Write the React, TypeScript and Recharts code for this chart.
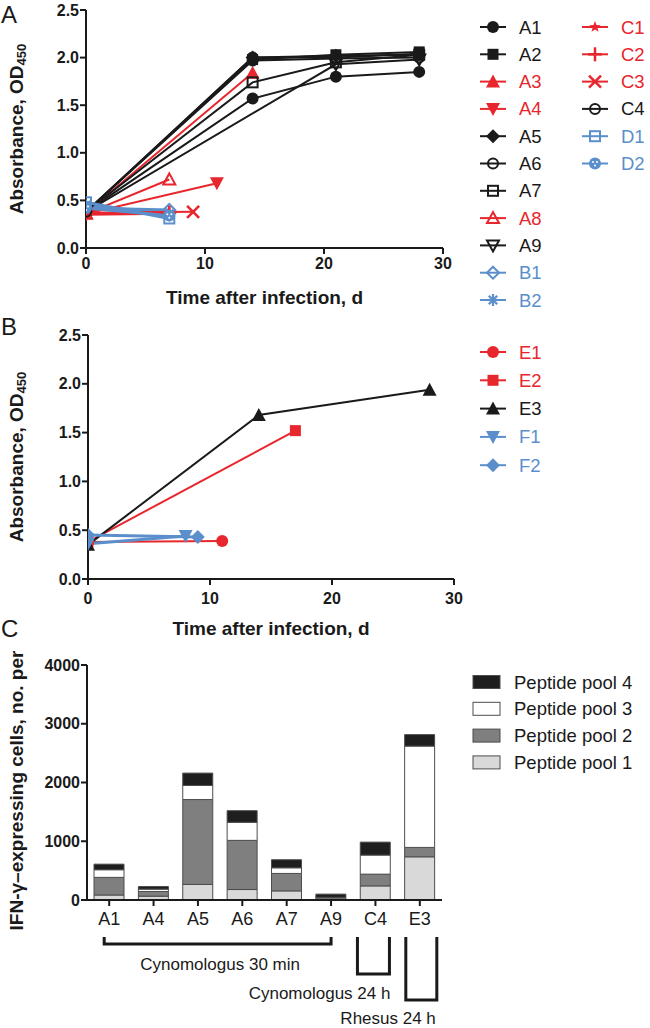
import React from 'react';
import { LineChart, Line, XAxis, YAxis, BarChart, Bar, Label } from 'recharts';

const FONT = "'Liberation Sans', Arial, Helvetica, sans-serif";
const INK = '#1a1a1a';
const RED = '#e8262d';
const BLUE = '#5b8fcb';

// ---- Panel A: ELISA time course, groups A-D ----
const A_NAMES = ['A1', 'A2', 'A3', 'A4', 'A5', 'A6', 'A7', 'A8', 'A9', 'B1', 'B2', 'C1', 'C2', 'C3', 'C4', 'D1', 'D2'];
const A_DAYS = [
  [0, 14, 21, 28], [0, 14, 21, 28], [0, 14], [0, 11], [0, 14, 21, 28], [0, 14, 21, 28],
  [0, 14, 21, 28], [0, 7], [0, 21, 28], [0, 7], [0, 7], [0, 7], [0, 7], [0, 9],
  [0, 14, 21, 28], [0, 7], [0, 7],
];
const A_OD = [
  [0.38, 1.57, 1.8, 1.85], [0.38, 1.98, 2.03, 2.06], [0.37, 1.84], [0.36, 0.68],
  [0.38, 2.0, 2.02, 2.03], [0.38, 1.97, 1.99, 2.0], [0.38, 1.74, 1.95, 2.03], [0.36, 0.72],
  [0.38, 1.93, 1.98], [0.42, 0.4], [0.45, 0.36], [0.35, 0.36], [0.36, 0.37], [0.37, 0.38],
  [0.38, 2.0, 2.0, 2.04], [0.48, 0.31], [0.42, 0.34],
];
const A_COLORS = [INK, INK, RED, RED, INK, INK, INK, RED, INK, BLUE, BLUE, RED, RED, RED, INK, BLUE, BLUE];
const A_SHAPES = [
  'circle', 'square', 'triUp', 'triDown', 'diamond', 'openCircle', 'openSquare', 'openTriUp',
  'openTriDown', 'openDiamond', 'asterisk', 'star', 'plus', 'cross', 'openCircle', 'openSquare', 'dotCircle',
];

// ---- Panel B: groups E-F ----
const B_NAMES = ['E1', 'E2', 'E3', 'F1', 'F2'];
const B_DAYS = [[0, 11], [0, 17], [0, 14, 28], [0, 8], [0, 9]];
const B_OD = [[0.38, 0.39], [0.38, 1.52], [0.35, 1.68, 1.94], [0.36, 0.44], [0.45, 0.43]];
const B_COLORS = [RED, RED, INK, BLUE, BLUE];
const B_SHAPES = ['circle', 'square', 'triUp', 'triDown', 'diamond'];

const OD_TICKS = [0, 0.5, 1, 1.5, 2, 2.5];
const DAY_TICKS = [0, 10, 20, 30];

// ---- Panel C: IFN-gamma ELISpot by peptide pool ----
const C_ANIMALS = ['A1', 'A4', 'A5', 'A6', 'A7', 'A9', 'C4', 'E3'];
const POOL1 = [85, 65, 265, 178, 155, 10, 240, 735];
const POOL2 = [300, 80, 1445, 837, 297, 30, 200, 160];
const POOL3 = [130, 40, 240, 308, 96, 5, 325, 1725];
const POOL4 = [95, 45, 210, 197, 137, 55, 220, 195];
const POOL_NAMES = ['Peptide pool 1', 'Peptide pool 2', 'Peptide pool 3', 'Peptide pool 4'];
const POOL_FILLS = ['#d9d9d9', '#7f7f7f', '#ffffff', '#1e1e1e'];
const C_TICKS = [0, 1000, 2000, 3000, 4000];

const barData = C_ANIMALS.map((id, i) => ({ id, p1: POOL1[i], p2: POOL2[i], p3: POOL3[i], p4: POOL4[i] }));

const toPoints = (days: number[], od: number[]) => days.map((x, i) => ({ x, y: od[i] }));

// plot geometry of panel C (used for the group brackets below the axis)
const C_LEFT = 87;
const C_RIGHT = 442;
const C_BAND = (C_RIGHT - C_LEFT) / C_ANIMALS.length;
const bandCenter = (id: string) => C_LEFT + C_BAND * (C_ANIMALS.indexOf(id) + 0.5);

function Marker({ shape, cx, cy, color, s = 6 }: any) {
  const sw = 2;
  const open = { fill: 'none', stroke: color, strokeWidth: sw };
  switch (shape) {
    case 'circle':
      return <circle cx={cx} cy={cy} r={s} fill={color} />;
    case 'dotCircle':
      return (
        <g>
          <circle cx={cx} cy={cy} r={s} fill={color} />
          <circle cx={cx - 2} cy={cy - 1.5} r={1} fill="#fff" />
          <circle cx={cx + 2} cy={cy - 1.5} r={1} fill="#fff" />
          <circle cx={cx} cy={cy + 2} r={1} fill="#fff" />
        </g>
      );
    case 'square':
      return <rect x={cx - s + 0.5} y={cy - s + 0.5} width={2 * s - 1} height={2 * s - 1} fill={color} />;
    case 'triUp':
      return <polygon points={`${cx},${cy - s - 1} ${cx + s + 1},${cy + s} ${cx - s - 1},${cy + s}`} fill={color} />;
    case 'triDown':
      return <polygon points={`${cx - s - 1},${cy - s} ${cx + s + 1},${cy - s} ${cx},${cy + s + 1}`} fill={color} />;
    case 'diamond':
      return <polygon points={`${cx},${cy - s - 1} ${cx + s + 1},${cy} ${cx},${cy + s + 1} ${cx - s - 1},${cy}`} fill={color} />;
    case 'openCircle':
      return <circle cx={cx} cy={cy} r={s - 1} {...open} />;
    case 'openSquare':
      return <rect x={cx - s + 1} y={cy - s + 1} width={2 * s - 2} height={2 * s - 2} {...open} />;
    case 'openTriUp':
      return <polygon points={`${cx},${cy - s} ${cx + s},${cy + s - 1} ${cx - s},${cy + s - 1}`} {...open} />;
    case 'openTriDown':
      return <polygon points={`${cx - s},${cy - s + 1} ${cx + s},${cy - s + 1} ${cx},${cy + s}`} {...open} />;
    case 'openDiamond':
      return <polygon points={`${cx},${cy - s} ${cx + s},${cy} ${cx},${cy + s} ${cx - s},${cy}`} {...open} />;
    case 'asterisk':
      return (
        <g stroke={color} strokeWidth={2.2}>
          <line x1={cx - s} y1={cy} x2={cx + s} y2={cy} />
          <line x1={cx} y1={cy - s} x2={cx} y2={cy + s} />
          <line x1={cx - s * 0.7} y1={cy - s * 0.7} x2={cx + s * 0.7} y2={cy + s * 0.7} />
          <line x1={cx - s * 0.7} y1={cy + s * 0.7} x2={cx + s * 0.7} y2={cy - s * 0.7} />
        </g>
      );
    case 'star': {
      const pts: string[] = [];
      for (let k = 0; k < 10; k++) {
        const r = k % 2 === 0 ? s : s * 0.42;
        const a = -Math.PI / 2 + (k * Math.PI) / 5;
        pts.push(`${cx + r * Math.cos(a)},${cy + r * Math.sin(a)}`);
      }
      return <polygon points={pts.join(' ')} fill={color} />;
    }
    case 'plus':
      return (
        <g stroke={color} strokeWidth={2.5}>
          <line x1={cx - s - 1} y1={cy} x2={cx + s + 1} y2={cy} />
          <line x1={cx} y1={cy - s - 1} x2={cx} y2={cy + s + 1} />
        </g>
      );
    case 'cross':
      return (
        <g stroke={color} strokeWidth={2.5}>
          <line x1={cx - s} y1={cy - s} x2={cx + s} y2={cy + s} />
          <line x1={cx - s} y1={cy + s} x2={cx + s} y2={cy - s} />
        </g>
      );
    default:
      return null;
  }
}

const dotFor = (name: string, shape: string, color: string) => (p: any) => (
  <Marker key={`${name}-${p.index}`} shape={shape} cx={p.cx} cy={p.cy} color={color} />
);

const tickBold = { fill: INK, fontSize: 16, fontWeight: 700, fontFamily: FONT };
const axisStroke = { stroke: INK, strokeWidth: 2 };

const odLabel = ({ viewBox }: any) => {
  const cx = viewBox.x + 16;
  const cy = viewBox.y + viewBox.height / 2;
  return (
    <text
      x={cx}
      y={cy}
      transform={`rotate(-90 ${cx} ${cy})`}
      textAnchor="middle"
      dominantBaseline="central"
      fontFamily={FONT}
      fontWeight={700}
      fontSize={19}
      fill={INK}
    >
      Absorbance, OD<tspan fontSize={13} dy={5}>450</tspan>
    </text>
  );
};

const dayLabel = ({ viewBox }: any) => (
  <text
    x={viewBox.x + viewBox.width / 2}
    y={viewBox.y + 56}
    textAnchor="middle"
    fontFamily={FONT}
    fontWeight={700}
    fontSize={19}
    fill={INK}
  >
    Time after infection, d
  </text>
);

const ifnLabel = ({ viewBox }: any) => {
  const cx = viewBox.x + 16;
  const cy = viewBox.y + viewBox.height / 2 + 8;
  return (
    <text
      x={cx}
      y={cy}
      transform={`rotate(-90 ${cx} ${cy})`}
      textAnchor="middle"
      dominantBaseline="central"
      fontFamily={FONT}
      fontWeight={700}
      fontSize={19}
      fill={INK}
    >
      IFN-γ–expressing cells, no. per
    </text>
  );
};

function TimeCourse({ names, days, od, colors, shapes, height, top, yWidth, right, xHeight, tickGap }: any) {
  return (
    <LineChart width={650} height={height} margin={{ top, right, bottom: 0, left: 0 }}>
      <XAxis
        type="number"
        dataKey="x"
        domain={[0, 30]}
        ticks={DAY_TICKS}
        allowDataOverflow
        height={xHeight}
        tick={tickBold}
        tickSize={6}
        tickMargin={tickGap}
        axisLine={axisStroke}
        tickLine={axisStroke}
      >
        <Label content={dayLabel} />
      </XAxis>
      <YAxis
        type="number"
        dataKey="y"
        domain={[0, 2.5]}
        ticks={OD_TICKS}
        tickFormatter={(v: number) => v.toFixed(1)}
        width={yWidth}
        tick={tickBold}
        tickSize={6}
        tickMargin={1}
        axisLine={axisStroke}
        tickLine={axisStroke}
      >
        <Label content={odLabel} />
      </YAxis>
      {names.map((name: string, i: number) => (
        <Line
          key={name}
          name={name}
          data={toPoints(days[i], od[i])}
          dataKey="y"
          type="linear"
          stroke={colors[i]}
          strokeWidth={colors[i] === BLUE ? 3 : 2}
          dot={dotFor(name, shapes[i], colors[i])}
          activeDot={false}
          isAnimationActive={false}
        />
      ))}
    </LineChart>
  );
}

function SymbolLegend({ names, colors, shapes, x, y, rowH }: any) {
  return (
    <g>
      {names.map((name: string, i: number) => {
        const cy = y + i * rowH;
        return (
          <g key={name}>
            <line x1={x - 13} y1={cy} x2={x + 13} y2={cy} stroke={colors[i]} strokeWidth={2} />
            <Marker shape={shapes[i]} cx={x} cy={cy} color={colors[i]} />
            <text x={x + 26} y={cy} dominantBaseline="central" fontFamily={FONT} fontSize={18.5} fill={colors[i]}>
              {name}
            </text>
          </g>
        );
      })}
    </g>
  );
}

function Annotations() {
  const a1 = bandCenter('A1');
  const a9 = bandCenter('A9');
  const c4 = bandCenter('C4');
  const e3 = bandCenter('E3');
  const text = { fontFamily: FONT, fontSize: 17, fill: INK };
  return (
    <svg width={650} height={1028} style={{ position: 'absolute', left: 0, top: 0, pointerEvents: 'none' }}>
      <text x={1} y={23} fontFamily={FONT} fontSize={24} fill={INK}>A</text>
      <text x={1} y={335} fontFamily={FONT} fontSize={24} fill={INK}>B</text>
      <text x={1} y={637} fontFamily={FONT} fontSize={24} fill={INK}>C</text>

      <SymbolLegend names={A_NAMES.slice(0, 11)} colors={A_COLORS.slice(0, 11)} shapes={A_SHAPES.slice(0, 11)} x={493} y={27} rowH={27.3} />
      <SymbolLegend names={A_NAMES.slice(11)} colors={A_COLORS.slice(11)} shapes={A_SHAPES.slice(11)} x={595} y={27} rowH={27.3} />
      <SymbolLegend names={B_NAMES} colors={B_COLORS} shapes={B_SHAPES} x={493} y={352} rowH={28.3} />

      {[3, 2, 1, 0].map((p, k) => {
        const cy = 682 + k * 26.8;
        return (
          <g key={POOL_NAMES[p]}>
            <rect x={473} y={cy - 6.5} width={27} height={13} fill={POOL_FILLS[p]} stroke="#4d4d4d" strokeWidth={1} />
            <text x={514} y={cy} dominantBaseline="central" fontFamily={FONT} fontSize={18.5} fill={INK}>
              {POOL_NAMES[p]}
            </text>
          </g>
        );
      })}

      <g fill="none" stroke={INK} strokeWidth={3}>
        <polyline points={`${a1 - 5},937 ${a1 - 5},944 ${a9},944 ${a9},937`} />
        <polyline points={`${c4 - 18},937 ${c4 - 18},974 ${c4 + 14},974 ${c4 + 14},937`} />
        <polyline points={`${e3 - 14},937 ${e3 - 14},1000 ${e3 + 17},1000 ${e3 + 17},937`} />
      </g>
      <text x={(a1 + a9) / 2} y={970} textAnchor="middle" {...text}>Cynomologus 30 min</text>
      <text x={c4 + 15} y={999} textAnchor="end" {...text}>Cynomologus 24 h</text>
      <text x={e3 + 16} y={1024} textAnchor="end" {...text}>Rhesus 24 h</text>
    </svg>
  );
}

export default function App() {
  return (
    <div style={{ position: 'absolute', left: 0, top: 0, width: 650, height: 1028, background: '#fff', fontFamily: FONT }}>
      <div style={{ position: 'absolute', left: 0, top: 0 }}>
        <TimeCourse
          names={A_NAMES}
          days={A_DAYS}
          od={A_OD}
          colors={A_COLORS}
          shapes={A_SHAPES}
          height={310}
          top={10}
          yWidth={86}
          right={207}
          xHeight={62}
          tickGap={4}
        />
      </div>
      <div style={{ position: 'absolute', left: 0, top: 310 }}>
        <TimeCourse
          names={B_NAMES}
          days={B_DAYS}
          od={B_OD}
          colors={B_COLORS}
          shapes={B_SHAPES}
          height={330}
          top={25}
          yWidth={88}
          right={196}
          xHeight={61}
          tickGap={8}
        />
      </div>
      <div style={{ position: 'absolute', left: 0, top: 640 }}>
        <BarChart width={650} height={300} data={barData} margin={{ top: 25, right: 650 - C_RIGHT, bottom: 0, left: 0 }} barSize={30}>
          <XAxis
            dataKey="id"
            height={40}
            tick={{ fill: INK, fontSize: 18, fontFamily: FONT }}
            tickSize={6}
            tickMargin={6}
            axisLine={axisStroke}
            tickLine={axisStroke}
          />
          <YAxis
            domain={[0, 4000]}
            ticks={C_TICKS}
            width={C_LEFT}
            tick={tickBold}
            tickSize={6}
            tickMargin={1}
            axisLine={axisStroke}
            tickLine={axisStroke}
          >
            <Label content={ifnLabel} />
          </YAxis>
          {['p1', 'p2', 'p3', 'p4'].map((key, i) => (
            <Bar
              key={key}
              dataKey={key}
              name={POOL_NAMES[i]}
              stackId="pools"
              fill={POOL_FILLS[i]}
              stroke="#4d4d4d"
              strokeWidth={1}
              isAnimationActive={false}
            />
          ))}
        </BarChart>
      </div>
      <Annotations />
    </div>
  );
}
